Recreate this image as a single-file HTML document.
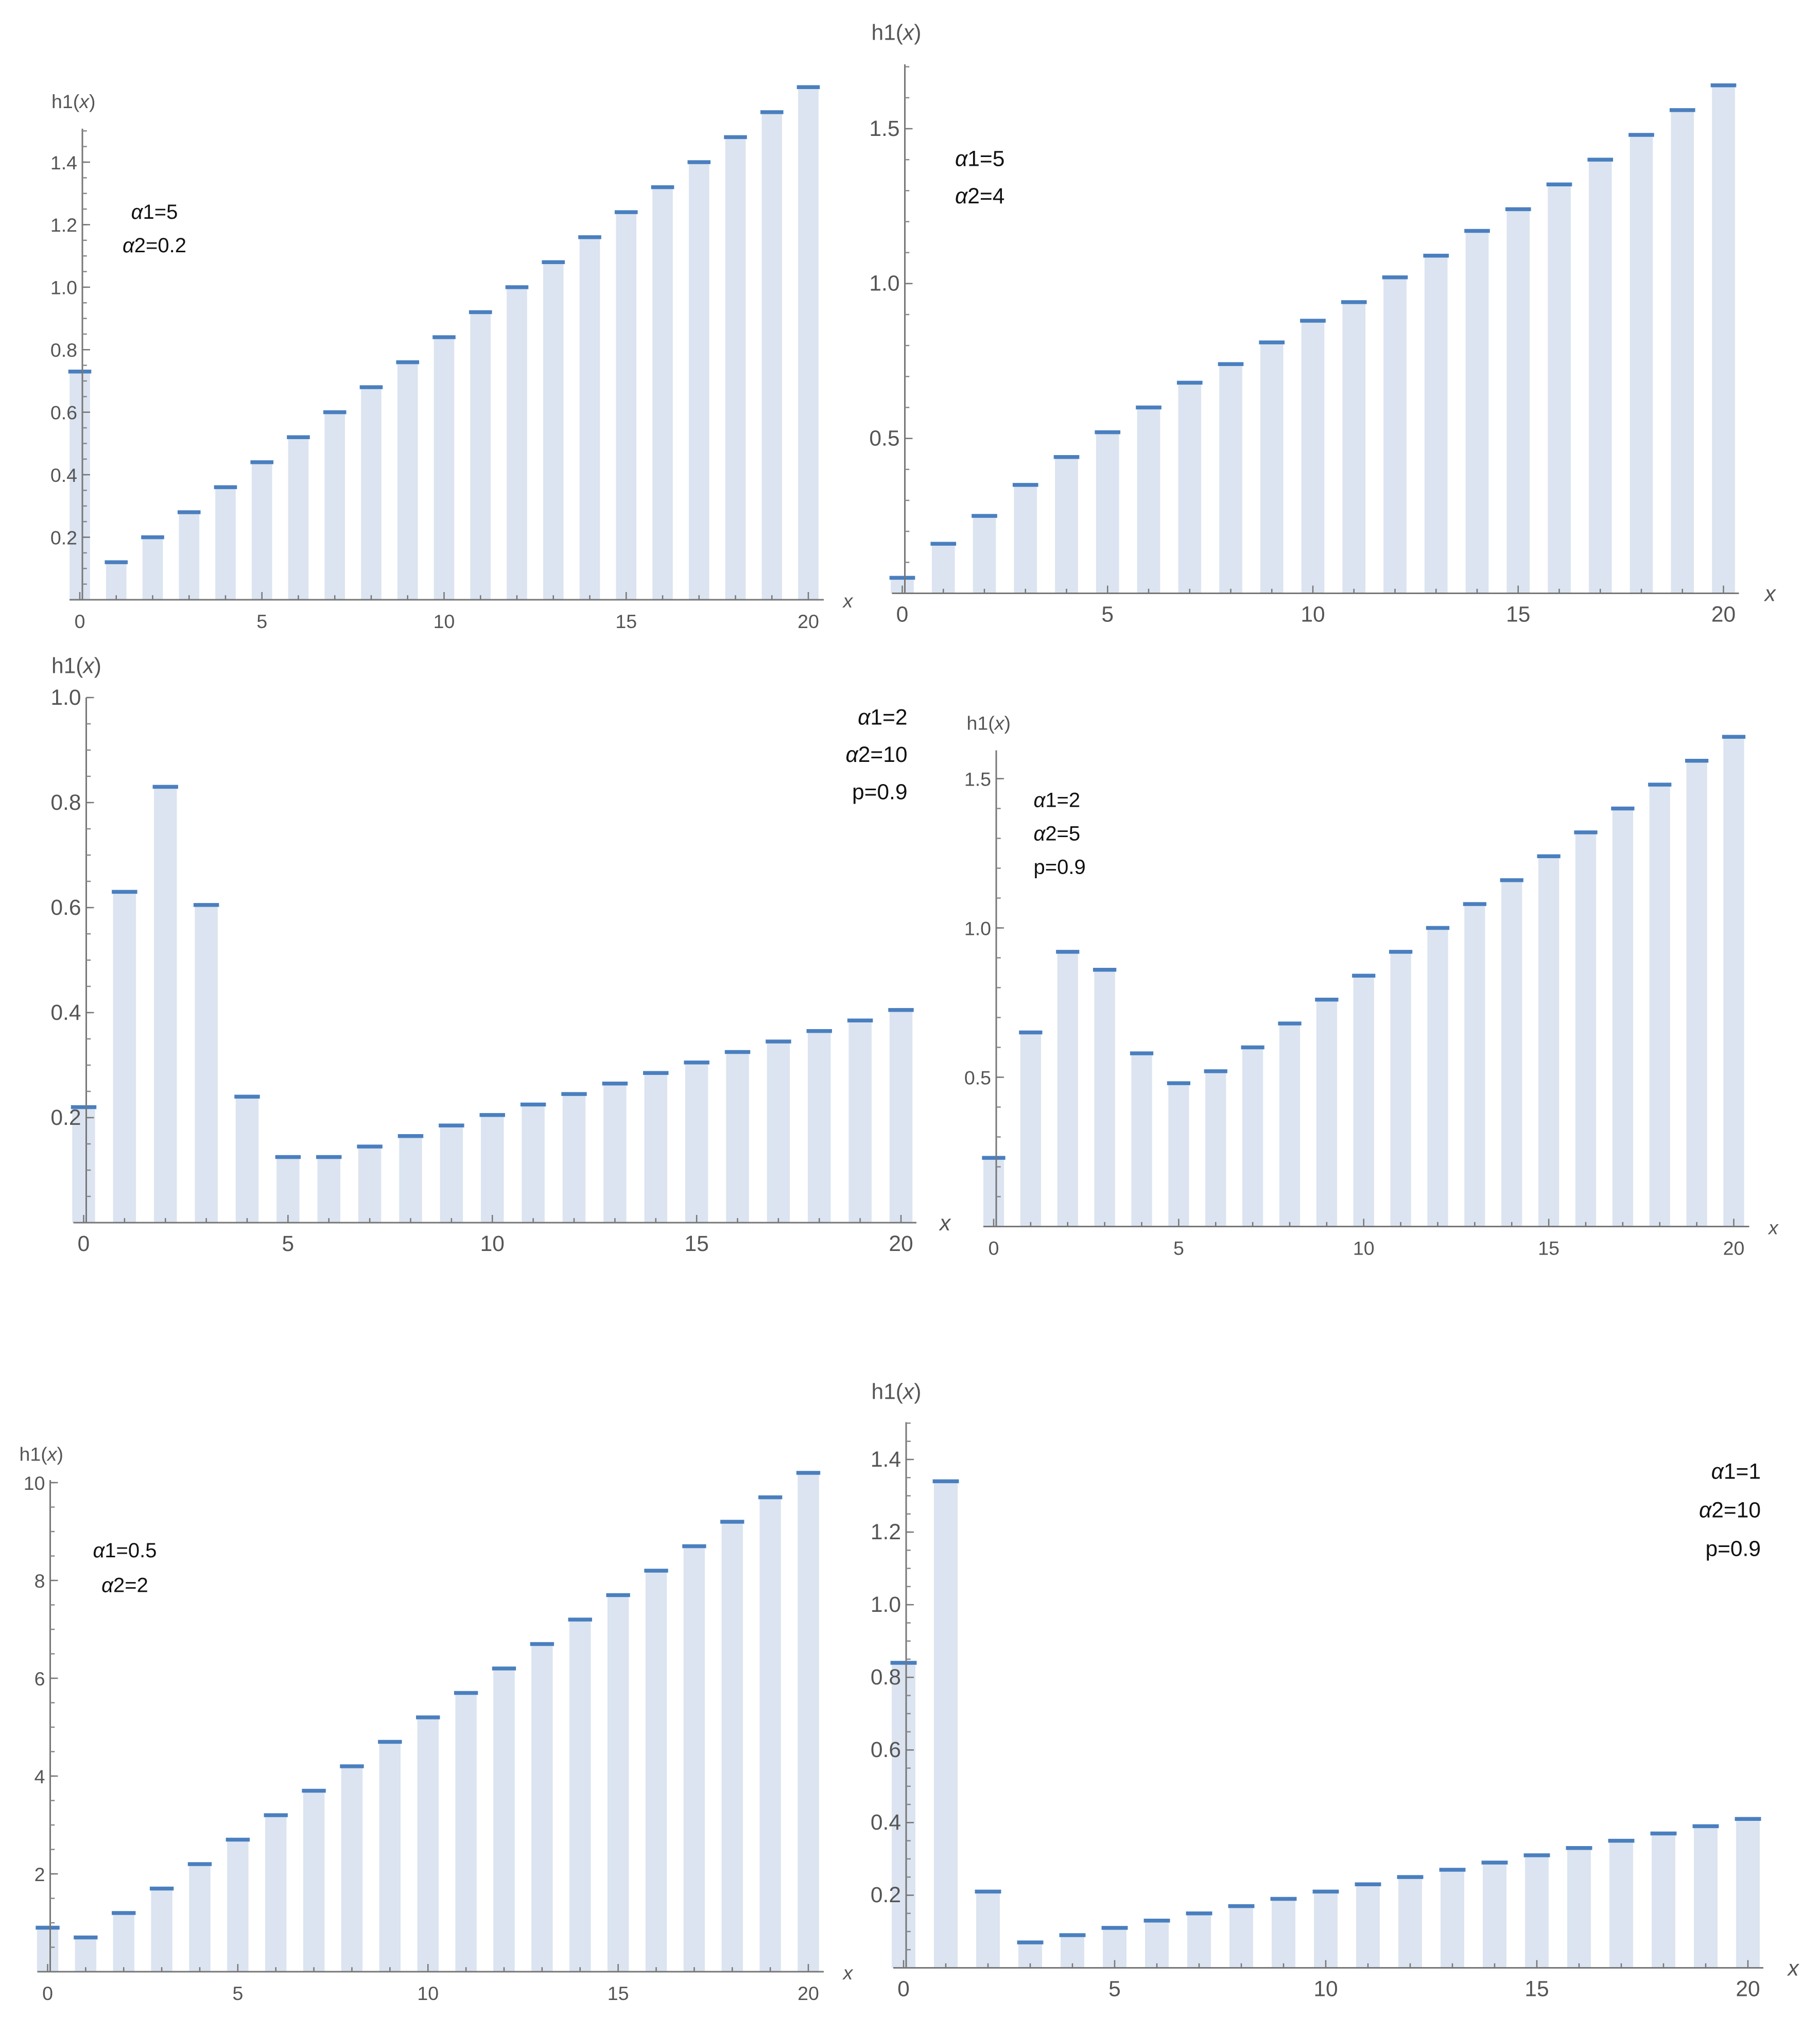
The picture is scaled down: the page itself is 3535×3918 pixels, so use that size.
<!DOCTYPE html>
<html><head><meta charset="utf-8"><style>
html,body{margin:0;padding:0;background:#fff}
svg{display:block}
text{font-family:"Liberation Sans",sans-serif}
</style></head><body>
<svg id="chart" width="3535" height="3918" viewBox="0 0 1414 1567.2" xmlns="http://www.w3.org/2000/svg"></svg>
<script>
const xs = [0,1,2,3,4,5,6,7,8,9,10,11,12,13,14,15,16,17,18,19,20];
const xTicks = [0,5,10,15,20];
const vals1 = [0.73,0.12,0.2,0.28,0.36,0.44,0.52,0.6,0.68,0.76,0.84,0.92,1.0,1.08,1.16,1.24,1.32,1.40,1.48,1.56,1.64];
const vals2 = [0.05,0.16,0.25,0.35,0.44,0.52,0.60,0.68,0.74,0.81,0.88,0.94,1.02,1.09,1.17,1.24,1.32,1.40,1.48,1.56,1.64];
const vals3 = [0.22,0.63,0.83,0.605,0.24,0.125,0.125,0.145,0.165,0.185,0.205,0.225,0.245,0.265,0.285,0.305,0.325,0.345,0.365,0.385,0.405];
const vals4 = [0.23,0.65,0.92,0.86,0.58,0.48,0.52,0.60,0.68,0.76,0.84,0.92,1.0,1.08,1.16,1.24,1.32,1.40,1.48,1.56,1.64];
const vals5 = [0.9,0.7,1.2,1.7,2.2,2.7,3.2,3.7,4.2,4.7,5.2,5.7,6.2,6.7,7.2,7.7,8.2,8.7,9.2,9.7,10.2];
const vals6 = [0.84,1.34,0.21,0.07,0.09,0.11,0.13,0.15,0.17,0.19,0.21,0.23,0.25,0.27,0.29,0.31,0.33,0.35,0.37,0.39,0.41];
const yTicks1 = [0.2,0.4,0.6,0.8,1.0,1.2,1.4];
const yTicks2 = [0.5,1.0,1.5];
const yTicks3 = [0.2,0.4,0.6,0.8,1.0];
const yTicks4 = [0.5,1.0,1.5];
const yTicks5 = [2,4,6,8,10];
const yTicks6 = [0.2,0.4,0.6,0.8,1.0,1.2,1.4];
const labels1 = ["α1=5","α2=0.2"];
const labels2 = ["α1=5","α2=4"];
const labels3 = ["α1=2","α2=10","p=0.9"];
const labels4 = ["α1=2","α2=5","p=0.9"];
const labels5 = ["α1=0.5","α2=2"];
const labels6 = ["α1=1","α2=10","p=0.9"];

const NS="http://www.w3.org/2000/svg";
const svg=document.getElementById('chart');
function mk(tag,parent){const e=document.createElementNS(NS,tag);parent.appendChild(e);return e;}

function panel(p){
  const g=mk('g',svg);
  
  
  const X=v=>p.x0+(p.x20-p.x0)*v/20;
  const Y=v=>p.y0-(p.y0-p.yRef)*v/p.vRef;
  const dx=(p.x20-p.x0)/20;
  const bw=dx*0.56;
  p.vals.forEach((v,i)=>{
    const r=mk('rect',g);
    
    
    r.setAttribute('x',X(xs[i])-bw/2);r.setAttribute('y',Y(v));
    r.setAttribute('width',bw);r.setAttribute('height',Math.max(0,p.y0-Y(v)));
    r.setAttribute('fill','#dbe4f0');
    const c=mk('line',g);
    
    
    c.setAttribute('x1',X(xs[i])-bw/2-1);c.setAttribute('x2',X(xs[i])+bw/2+1);
    c.setAttribute('y1',Y(v));c.setAttribute('y2',Y(v));
    c.setAttribute('stroke','#4a7fbf');c.setAttribute('stroke-width',3);
  });
  // axes
  const ax=mk('line',g);
  
  ax.setAttribute('x1',p.x0-8);ax.setAttribute('x2',p.x20+12);ax.setAttribute('y1',p.y0);ax.setAttribute('y2',p.y0);
  ax.setAttribute('stroke','#777');ax.setAttribute('stroke-width',1.2);
  const ay=mk('line',g);
  
  ay.setAttribute('x1',p.ax);ay.setAttribute('x2',p.ax);ay.setAttribute('y1',p.yTop);ay.setAttribute('y2',p.y0);
  ay.setAttribute('stroke','#777');ay.setAttribute('stroke-width',1.2);
  xs.forEach(v=>{
    const t=mk('line',g);
    
    const major=v%5===0;
    t.setAttribute('x1',X(v));t.setAttribute('x2',X(v));t.setAttribute('y1',p.y0);t.setAttribute('y2',p.y0-(major?6:3.5));
    t.setAttribute('stroke','#777');
  });
  xTicks.forEach(v=>{
    const t=mk('text',g);
    
    t.setAttribute('x',X(v));t.setAttribute('y',p.y0+22);t.setAttribute('text-anchor','middle');
    t.setAttribute('font-size',p.fs);t.setAttribute('fill','#555');t.textContent=String(v);
  });
  // minor y ticks
  const step=p.yTicks[1]-p.yTicks[0];
  const minor=step/p.minorN;
  for(let k=1;;k++){const v=k*minor;if(Y(v)<p.yTop-0.5)break;
    const t=mk('line',g);
    
    t.setAttribute('x1',p.ax);t.setAttribute('x2',p.ax+3.5);t.setAttribute('y1',Y(v));t.setAttribute('y2',Y(v));
    t.setAttribute('stroke','#888');}
  p.yTicks.forEach(v=>{
    const t=mk('line',g);
    
    t.setAttribute('x1',p.ax);t.setAttribute('x2',p.ax+6);t.setAttribute('y1',Y(v));t.setAttribute('y2',Y(v));
    t.setAttribute('stroke','#777');
    const l=mk('text',g);
    
    l.setAttribute('x',p.ax-4);l.setAttribute('y',Y(v)+5.5);l.setAttribute('text-anchor','end');
    l.setAttribute('font-size',p.fs);l.setAttribute('fill','#555');
    l.textContent=p.dec?v.toFixed(p.dec):String(v);
  });
  const yl=mk('text',g);
  
  yl.setAttribute('x',p.ylx);yl.setAttribute('y',p.yly);yl.setAttribute('font-size',p.fs);yl.setAttribute('fill','#555');
  yl.innerHTML='h1(<tspan font-style="italic">x</tspan>)';
  const xl=mk('text',g);
  
  xl.setAttribute('x',p.xlx);xl.setAttribute('y',p.y0+6);xl.setAttribute('font-size',p.fs);xl.setAttribute('fill','#555');xl.setAttribute('font-style','italic');
  xl.textContent='x';
  p.labels.forEach((s,i)=>{
    const t=mk('text',g);
    
    t.setAttribute('x',p.lx);t.setAttribute('y',p.ly+i*p.lgap);t.setAttribute('text-anchor',p.anchor);
    t.setAttribute('font-size',p.lfs);t.setAttribute('fill','#111');
    t.innerHTML=s.replace('α','<tspan font-style="italic">α</tspan>');
  });
}

panel({name:'panel-a1-5-a2-0.2',vals:vals1,yTicks:yTicks1,labels:labels1,x0:62,x20:628,y0:466,yRef:126,vRef:1.4,ax:64,yTop:100,minorN:4,dec:1,fs:15,ylx:40,yly:84,xlx:655,lx:120,ly:170,lgap:26,anchor:'middle',lfs:16});
panel({name:'panel-a1-5-a2-4',vals:vals2,yTicks:yTicks2,labels:labels2,x0:701,x20:1339,y0:461,yRef:100,vRef:1.5,ax:703,yTop:50,minorN:5,dec:1,fs:17,ylx:677,yly:31,xlx:1371,lx:742,ly:129,lgap:29,anchor:'start',lfs:17});
panel({name:'panel-a1-2-a2-10-p-0.9',vals:vals3,yTicks:yTicks3,labels:labels3,x0:65,x20:700,y0:950,yRef:542,vRef:1.0,ax:67,yTop:542,minorN:4,dec:1,fs:17,ylx:40,yly:523,xlx:730,lx:705,ly:563,lgap:29,anchor:'end',lfs:17});
panel({name:'panel-a1-2-a2-5-p-0.9',vals:vals4,yTicks:yTicks4,labels:labels4,x0:772,x20:1347,y0:953,yRef:605,vRef:1.5,ax:774,yTop:583,minorN:5,dec:1,fs:15,ylx:751,yly:567,xlx:1374,lx:803,ly:627,lgap:26,anchor:'start',lfs:16});
panel({name:'panel-a1-0.5-a2-2',vals:vals5,yTicks:yTicks5,labels:labels5,x0:37,x20:628,y0:1532,yRef:1152,vRef:10,ax:39,yTop:1150,minorN:4,dec:0,fs:15,ylx:15,yly:1135,xlx:655,lx:97,ly:1210,lgap:27,anchor:'middle',lfs:16});
panel({name:'panel-a1-1-a2-10-p-0.9',vals:vals6,yTicks:yTicks6,labels:labels6,x0:702,x20:1358,y0:1529,yRef:1134,vRef:1.4,ax:704,yTop:1105,minorN:4,dec:1,fs:17,ylx:677,yly:1087,xlx:1389,lx:1368,ly:1149,lgap:30,anchor:'end',lfs:17});
</script>
</body></html>
